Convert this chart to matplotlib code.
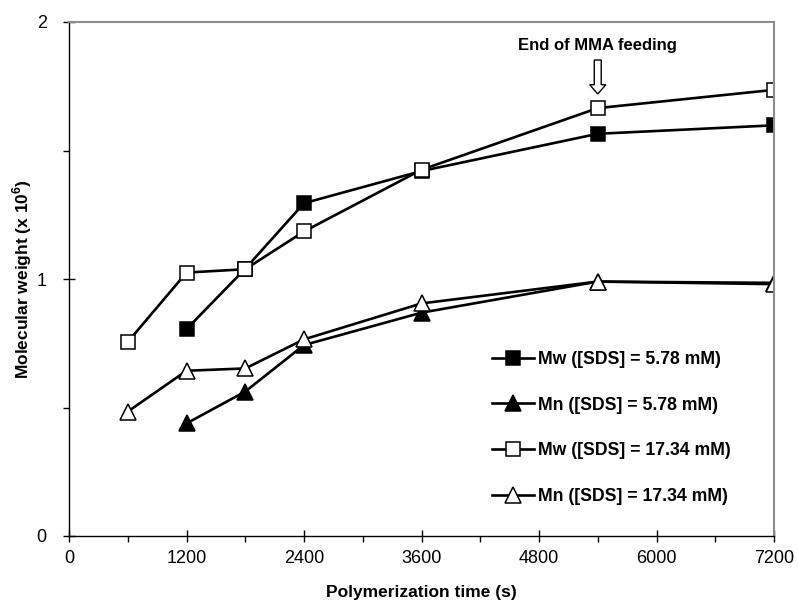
import numpy as np
import matplotlib.pyplot as plt
from matplotlib.ticker import MultipleLocator

plt.rcParams['font.family'] = ['Liberation Sans', 'DejaVu Sans']
plt.rcParams['mathtext.fontset'] = 'custom'
plt.rcParams['mathtext.rm'] = 'Liberation Sans'
plt.rcParams['mathtext.bf'] = 'Liberation Sans:bold'

# data (time in s, molecular weight x 10^6)
t_low = [1200, 1800, 2400, 3600, 5400, 7200]
mw_low = [0.805, 1.04, 1.295, 1.42, 1.565, 1.598]
mn_low = [0.438, 0.562, 0.743, 0.869, 0.99, 0.985]

t_high = [600, 1200, 1800, 2400, 3600, 5400, 7200]
mw_high = [0.755, 1.025, 1.038, 1.185, 1.425, 1.665, 1.736]
mn_high = [0.484, 0.643, 0.652, 0.765, 0.905, 0.99, 0.98]

labels = ['Mw ([SDS] = 5.78 mM)', 'Mn ([SDS] = 5.78 mM)',
          'Mw ([SDS] = 17.34 mM)', 'Mn ([SDS] = 17.34 mM)']

fig = plt.figure(figsize=(7.98, 6.10), dpi=100)
ax = fig.add_axes([69/798, 74/610, 705/798, 514/610])

lw = 1.9
mew = 1.1
ax.plot(t_low, mw_low, '-s', color='black', lw=lw, ms=9.5, mfc='black', mec='black', mew=mew, label=labels[0])
ax.plot(t_low, mn_low, '-^', color='black', lw=lw, ms=11, mfc='black', mec='black', mew=mew, label=labels[1])
ax.plot(t_high, mw_high, '-s', color='black', lw=lw, ms=9.5, mfc='white', mec='black', mew=mew, label=labels[2])
ax.plot(t_high, mn_high, '-^', color='black', lw=lw, ms=11, mfc='white', mec='black', mew=mew, label=labels[3])

ax.set_xlim(0, 7200)
ax.set_ylim(0, 2)
ax.xaxis.set_major_locator(MultipleLocator(1200))
ax.xaxis.set_minor_locator(MultipleLocator(600))
ax.yaxis.set_major_locator(MultipleLocator(1))
ax.yaxis.set_minor_locator(MultipleLocator(0.5))
ax.tick_params(which='major', direction='inout', length=8, width=1, labelsize=13, pad=6)
ax.tick_params(which='minor', direction='out', length=4, width=1)
ax.tick_params(axis='y', which='major', pad=12)

for s in ['top', 'right']:
    ax.spines[s].set_color('#8c8c8c')
    ax.spines[s].set_linewidth(1.5)
for s in ['left', 'bottom']:
    ax.spines[s].set_color('black')
    ax.spines[s].set_linewidth(1)

ax.set_xlabel('Polymerization time (s)', fontsize=12.5, fontweight='bold', labelpad=13)
ax.set_ylabel(r'Molecular weight (x 10$^\mathbf{6}$)', fontsize=12.5, fontweight='bold', labelpad=2)

ax.legend(loc='upper left', bbox_to_anchor=(0.6, 0.36), frameon=False,
          prop={'weight': 'bold', 'size': 12.7}, handlelength=2.4,
          handletextpad=0.2, labelspacing=1.62, borderpad=0, borderaxespad=0)

ax.text(5400, 1.91, 'End of MMA feeding', ha='center', va='center',
        fontsize=12, fontweight='bold')
ax.arrow(5400, 1.852, 0, -0.132, width=71, head_width=165, head_length=0.036,
         length_includes_head=True, fc='white', ec='black', lw=1)

fig.savefig('out.png', dpi=100)
